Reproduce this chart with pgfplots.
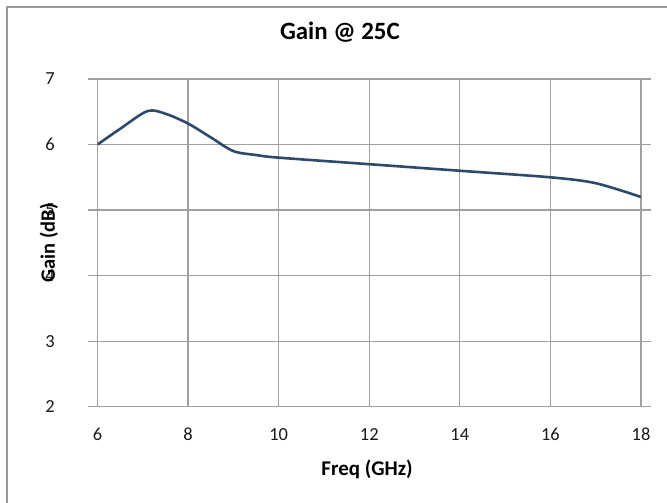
\documentclass[border=0pt]{standalone}
\usepackage{pgfplots}
\pgfplotsset{compat=1.18}
\usepackage{fontspec}
\setmainfont{Carlito}
\definecolor{gridgray}{HTML}{A0A0A0}
\definecolor{series}{HTML}{2E4A6B}
\definecolor{framegray}{HTML}{9A9A9A}
\begin{document}
\begin{tikzpicture}
  \begin{axis}[
    at={(97.5bp,96.3bp)}, anchor=south west,
    scale only axis,
    width=543.5bp, height=327.7bp,
    xmin=6, xmax=18, ymin=2, ymax=7,
    xtick={6,8,...,18}, ytick={2,3,...,7},
    grid=major,
    major grid style={gridgray, line width=1.2bp},
    axis line style={gridgray, line width=1.2bp},
    tick style={gridgray, line width=1.2bp},
    xtick style={draw=none},
    tick align=outside,
    major tick length=9.5bp,
    /pgf/number format/assume math mode=true,
    ticklabel style={font=\fontsize{18.5}{21}\selectfont, text=black!90},
    xticklabel style={anchor=north, inner sep=0pt, yshift=-12bp},
    yticklabel style={anchor=east, inner sep=0pt, xshift=-33bp},
    title={\textbf{Gain @ 25C}},
    title style={at={(0.446,1)}, anchor=base, yshift=34bp, inner sep=0pt,
      font=\fontsize{25}{29}\selectfont},
    xlabel={\textbf{Freq (GHz)}},
    xlabel style={at={(axis description cs:0.496,0)}, anchor=base, yshift=-68.3bp,
      inner sep=0pt, font=\fontsize{21}{25}\selectfont},
    ylabel={\textbf{Gain (dB)}},
    ylabel style={at={(axis description cs:-0.0782,0.5)}, anchor=base,
      inner sep=0pt, font=\fontsize{20.5}{24}\selectfont},
  ]
    \addplot[series, line width=2.6bp, smooth, tension=0.5] coordinates {
      (6,6.00) (6.5,6.24) (7.1,6.51) (7.5,6.47) (8,6.32) (8.5,6.11)
      (9,5.90) (9.5,5.84) (10,5.80) (12,5.70) (14,5.60) (16,5.50)
      (17,5.41) (18,5.20)
    };
  \end{axis}
  % chart frame, extending past the right and bottom edges
  \draw[framegray, line width=1.3bp] (7bp,-30bp) rectangle (720bp,496bp);
  \pgfresetboundingbox
  \path[use as bounding box] (0bp,0bp) rectangle (667bp,503bp);
\end{tikzpicture}
\end{document}
